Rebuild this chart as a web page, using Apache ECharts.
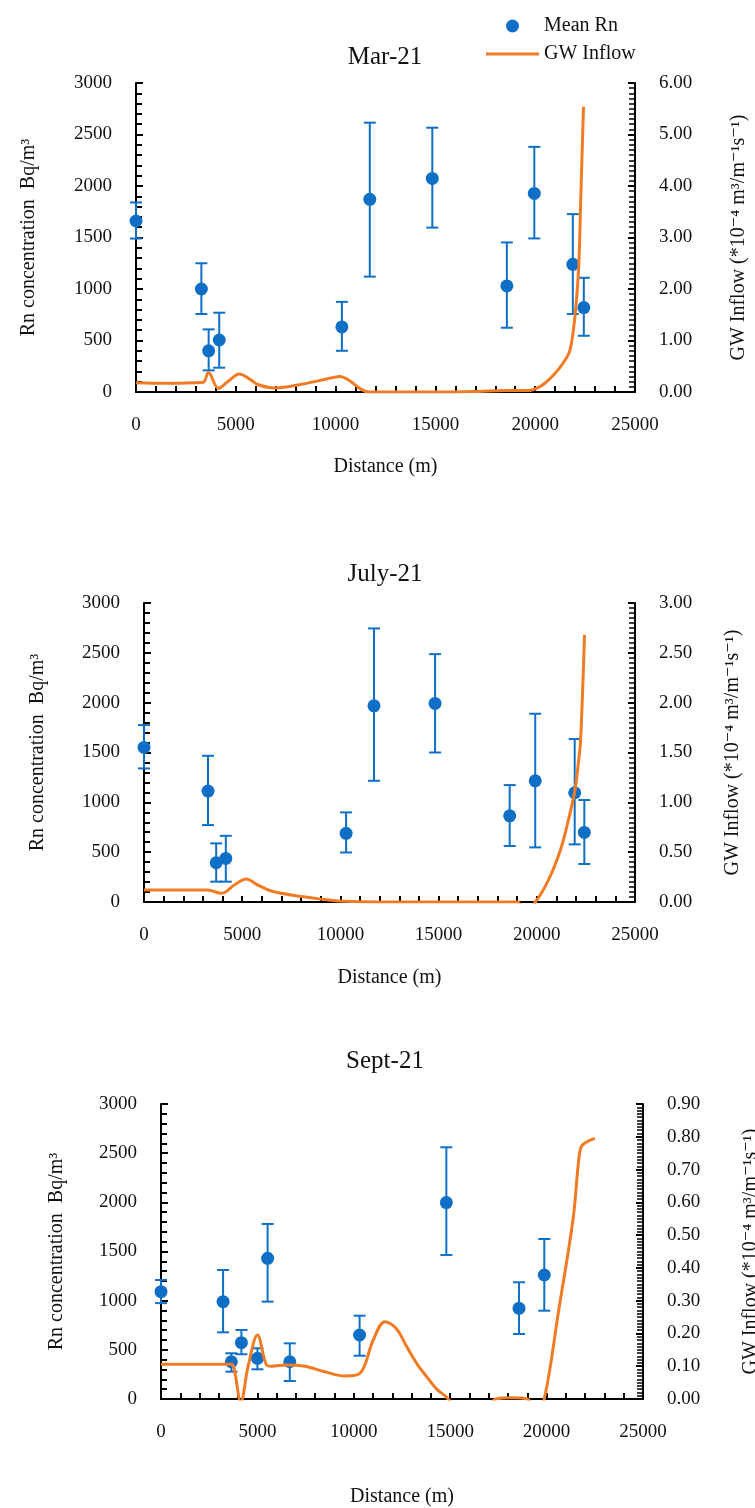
<!DOCTYPE html>
<html>
<head>
<meta charset="utf-8">
<script src="https://cdn.jsdelivr.net/npm/echarts@6/dist/echarts.min.js"></script>
<style>
  body { margin: 0; background: #fff; }
  #chart { width: 755px; height: 1508px; }
</style>
</head>
<body>
<div id="chart"></div>
<script>
// Mar-21
const marDist = [0, 3275, 3640, 4170, 10315, 11713, 14845, 18581, 19955, 21885, 22435];
const marRn   = [1660, 1000, 400, 505, 632, 1871, 2074, 1030, 1928, 1240, 820];
const marLow  = [1490, 757, 210, 236, 400, 1120, 1596, 624, 1491, 757, 546];
const marHigh = [1840, 1250, 608, 770, 875, 2615, 2566, 1452, 2380, 1727, 1109];
const marGwDist = [0, 1500, 3000, 3380, 3630, 4130, 4650, 5180, 5700, 6130, 6960, 8300, 9880, 10215, 10700, 11210, 11630, 13000, 15000, 17000, 18500, 19700, 20300, 20665, 21146, 21500, 21750, 21990, 22180, 22280, 22420];
const marGw     = [0.18, 0.17, 0.18, 0.19, 0.38, 0.07, 0.22, 0.35, 0.25, 0.14, 0.08, 0.15, 0.28, 0.30, 0.22, 0.07, 0.0, 0.0, 0.0, 0.01, 0.03, 0.03, 0.12, 0.23, 0.43, 0.62, 0.82, 1.46, 2.43, 3.73, 5.54];

// July-21
const julDist = [0, 3260, 3675, 4165, 10290, 11710, 14820, 18620, 19920, 21930, 22420];
const julRn   = [1551, 1113, 394, 437, 689, 1968, 1992, 865, 1216, 1096, 698];
const julLow  = [1340, 772, 204, 204, 497, 1216, 1500, 562, 548, 578, 381];
const julHigh = [1775, 1467, 588, 664, 899, 2745, 2487, 1173, 1889, 1635, 1023];
const julGwDist = [0, 1500, 3250, 3935, 4600, 5205, 5800, 6480, 7750, 9105, 9870, 12000, 15000, 17000, 19000, 19450, 19926, 20590, 21200, 21570, 21940, 22130, 22230, 22430];
const julGw     = [0.12, 0.12, 0.12, 0.087, 0.17, 0.23, 0.17, 0.11, 0.063, 0.027, 0.01, 0, 0, 0, 0, -0.08, 0, 0.22, 0.52, 0.79, 1.12, 1.42, 1.62, 2.68];

// Sept-21
const sepDist = [0, 3220, 3650, 4170, 5000, 5530, 6680, 10300, 14800, 18570, 19880];
const sepRn   = [1091, 990, 379, 573, 414, 1431, 379, 651, 1998, 922, 1261];
const sepLow  = [975, 678, 278, 455, 302, 990, 183, 440, 1464, 661, 898];
const sepHigh = [1210, 1312, 465, 702, 516, 1780, 566, 847, 2560, 1187, 1627];
const sepGwDist = [0, 2000, 3650, 3790, 4140, 4520, 5005, 5470, 5730, 6510, 7460, 8500, 9540, 10317, 11007, 11614, 12200, 12741, 13300, 13780, 14300, 14818, 15500, 16500, 17375, 18200, 19000, 19450, 19875, 20625, 21375, 21650, 21800, 22100, 22500];
const sepGw     = [0.106, 0.106, 0.106, 0.094, -0.01, 0.1, 0.195, 0.104, 0.1, 0.104, 0.1, 0.083, 0.07, 0.078, 0.18, 0.236, 0.215, 0.16, 0.105, 0.068, 0.03, 0.005, -0.04, -0.05, 0, 0.004, 0, -0.03, 0, 0.27, 0.55, 0.72, 0.77, 0.785, 0.795];

const titles = ['Mar-21', 'July-21', 'Sept-21'];
const rightMax = [6, 3, 0.9];
const rightStep = [1, 0.5, 0.1];

const serif = '"Liberation Serif", "DejaVu Serif", serif';
const blue = '#0F6FC6';
const orange = '#F07B24';

// layout of the three panels (pixels)
const panels = [
  { left: 136, right: 120, top: 83, height: 309, titleY: 40, nameGapX: 65, nameGapL: 97, nameGapR: 94 },
  { left: 144, right: 120, top: 603, height: 299, titleY: 557, nameGapX: 66, nameGapL: 96, nameGapR: 88 },
  { left: 161, right: 112, top: 1104, height: 295, titleY: 1044, nameGapX: 88, nameGapL: 94, nameGapR: 98 }
];

const sets = [
  { dist: marDist, rn: marRn, low: marLow, high: marHigh, gwDist: marGwDist, gw: marGw },
  { dist: julDist, rn: julRn, low: julLow, high: julHigh, gwDist: julGwDist, gw: julGw },
  { dist: sepDist, rn: sepRn, low: sepLow, high: sepHigh, gwDist: sepGwDist, gw: sepGw }
];

const chart = echarts.init(document.getElementById('chart'));

let grid = [], xAxis = [], yAxis = [], series = [], title = [];

panels.forEach((p, i) => {
  const s = sets[i];
  grid.push({ left: p.left, right: p.right, top: p.top, height: p.height, outerBoundsMode: 'none' });
  title.push({
    text: titles[i], left: 380, top: p.titleY, textAlign: 'center',
    textStyle: { fontFamily: serif, fontSize: 25, fontWeight: 'normal', color: '#111' }
  });
  xAxis.push({
    gridIndex: i, type: 'value', min: 0, max: 25000, interval: 5000,
    name: 'Distance (m)', nameLocation: 'middle', nameGap: p.nameGapX,
    nameTextStyle: { fontFamily: serif, fontSize: 20, color: '#111' },
    axisLine: { show: true, onZero: false, lineStyle: { color: '#000', width: 2 } },
    axisTick: { show: true, inside: true, length: 6, lineStyle: { color: '#000', width: 2 } },
    minorTick: { show: true, splitNumber: 5, length: 6, lineStyle: { color: '#000', width: 2 } },
    axisLabel: { margin: 24, fontFamily: serif, fontSize: 19, color: '#111', formatter: v => String(v) },
    splitLine: { show: false }
  });
  yAxis.push({
    gridIndex: i, type: 'value', min: 0, max: 3000, interval: 500, position: 'left',
    name: 'Rn concentration  Bq/m³', nameLocation: 'middle', nameGap: p.nameGapL, nameRotate: 90,
    nameTextStyle: { fontFamily: serif, fontSize: 20, color: '#111' },
    axisLine: { show: true, lineStyle: { color: '#000', width: 2 } },
    axisTick: { show: true, inside: true, length: 7, lineStyle: { color: '#000', width: 2 } },
    minorTick: { show: true, splitNumber: 5, length: 6, lineStyle: { color: '#000', width: 2 } },
    axisLabel: { margin: 24, fontFamily: serif, fontSize: 19, color: '#111', formatter: v => String(v) },
    splitLine: { show: false }
  });
  yAxis.push({
    gridIndex: i, type: 'value', min: 0, max: rightMax[i], interval: rightStep[i], position: 'right',
    name: 'GW Inflow (*10⁻⁴ m³/m⁻¹s⁻¹)', nameLocation: 'middle', nameGap: p.nameGapR, nameRotate: 90,
    nameTextStyle: { fontFamily: serif, fontSize: 20, color: '#111' },
    axisLine: { show: true, lineStyle: { color: '#000', width: 2 } },
    axisTick: { show: true, inside: true, length: 7, lineStyle: { color: '#000', width: 2 } },
    minorTick: { show: true, splitNumber: 10, length: 6, lineStyle: { color: '#000', width: 1.5 } },
    axisLabel: { margin: 24, fontFamily: serif, fontSize: 19, color: '#111', formatter: v => v.toFixed(2) },
    splitLine: { show: false }
  });

  // error bars drawn from the left axis scale
  series.push({
    type: 'custom', xAxisIndex: i, yAxisIndex: i * 2, silent: true, z: 2,
    data: s.dist.map((d, k) => [d, s.low[k], s.high[k]]),
    encode: { x: 0, y: [1, 2] },
    renderItem: (params, api) => {
      const lo = api.coord([api.value(0), api.value(1)]);
      const hi = api.coord([api.value(0), api.value(2)]);
      const st = { stroke: blue, lineWidth: 2 };
      return {
        type: 'group',
        children: [
          { type: 'line', shape: { x1: lo[0], y1: lo[1], x2: hi[0], y2: hi[1] }, style: st },
          { type: 'line', shape: { x1: lo[0] - 6, y1: lo[1], x2: lo[0] + 6, y2: lo[1] }, style: st },
          { type: 'line', shape: { x1: hi[0] - 6, y1: hi[1], x2: hi[0] + 6, y2: hi[1] }, style: st }
        ]
      };
    }
  });
  series.push({
    name: 'Mean Rn', type: 'scatter', xAxisIndex: i, yAxisIndex: i * 2, z: 3,
    symbolSize: 13, itemStyle: { color: blue, opacity: 1 },
    data: s.dist.map((d, k) => [d, s.rn[k]])
  });
  series.push({
    name: 'GW Inflow', type: 'line', xAxisIndex: i, yAxisIndex: i * 2 + 1, z: 4,
    smooth: 0.35, showSymbol: false, symbol: 'none', clip: true,
    lineStyle: { color: orange, width: 3 }, itemStyle: { color: orange },
    data: s.gwDist.map((d, k) => [d, s.gw[k]])
  });
});

chart.setOption({
  animation: false,
  title: title,
  legend: {
    orient: 'vertical', left: 481, top: 11, itemGap: 8,
    itemWidth: 53, itemHeight: 13,
    textStyle: { fontFamily: serif, fontSize: 20, color: '#111' },
    data: [
      { name: 'Mean Rn', icon: 'circle' },
      { name: 'GW Inflow', icon: 'path://M0,0 L53,0 L53,3 L0,3 Z' }
    ]
  },
  grid: grid,
  xAxis: xAxis,
  yAxis: yAxis,
  series: series
});
</script>
</body>
</html>
